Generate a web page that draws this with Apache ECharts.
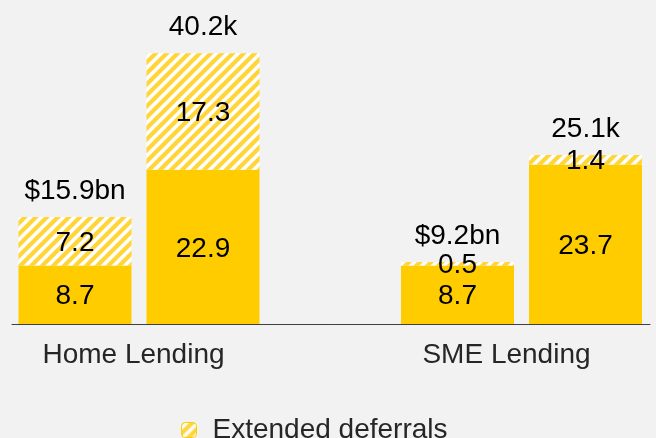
<!DOCTYPE html>
<html>
<head>
<meta charset="utf-8">
<script src="https://cdn.jsdelivr.net/npm/echarts@6/dist/echarts.min.js"></script>
<style>
  html, body { margin: 0; padding: 0; background: #f2f2f2; }
  #chart { width: 656px; height: 438px; }
</style>
</head>
<body>
<div id="chart"></div>
<script>
var categories = ['Home Lending', 'SME Lending'];
// left bar of each group: balances ($bn)
var balanceBase = [8.7, 8.7];
var balanceExtended = [7.2, 0.5];
var balanceTotals = ['$15.9bn', '$9.2bn'];
// right bar of each group: accounts (k)
var accountsBase = [22.9, 23.7];
var accountsExtended = [17.3, 1.4];
var accountsTotals = ['40.2k', '25.1k'];

var yellow = '#ffcc00';
var font = "'Liberation Sans', Arial, sans-serif";

// hatch pattern for the extended deferrals
function makeHatch() {
    var s = 11;
    var c = document.createElement('canvas');
    c.width = s;
    c.height = s;
    var ctx = c.getContext('2d');
    ctx.fillStyle = '#ffffff';
    ctx.fillRect(0, 0, s, s);
    ctx.strokeStyle = '#ffd538';
    ctx.lineWidth = 4.2;
    ctx.beginPath();
    ctx.moveTo(-s / 2, s / 2); ctx.lineTo(s / 2, -s / 2);
    ctx.moveTo(0, s); ctx.lineTo(s, 0);
    ctx.moveTo(s / 2, s * 1.5); ctx.lineTo(s * 1.5, s / 2);
    ctx.stroke();
    return c;
}
var hatch = { image: makeHatch(), repeat: 'repeat' };

var insideLabel = {
    show: true,
    position: 'inside',
    offset: [0, 2],
    color: '#000',
    fontSize: 28,
    fontFamily: font
};

function totalSeries(stack, totals) {
    return {
        name: 'total',
        type: 'bar',
        stack: stack,
        barWidth: 113,
        barGap: '13.3%',
        data: totals.map(function () { return 0; }),
        itemStyle: { color: 'transparent' },
        label: {
            show: true,
            position: 'top',
            distance: 12,
            color: '#000',
            fontSize: 28,
            fontFamily: font,
            formatter: function (p) { return totals[p.dataIndex]; }
        }
    };
}

var myChart = echarts.init(document.getElementById('chart'));
myChart.setOption({
    backgroundColor: '#f2f2f2',
    animation: false,
    textStyle: { fontFamily: font },
    grid: [
        // category points sit on the grid edges (boundaryGap false)
        { left: 139, right: 134.5, top: 21, bottom: 114 },
        { left: 12, right: 6, top: 21, bottom: 114 }
    ],
    legend: {
        data: ['Extended deferrals'],
        left: 176,
        top: 411,
        itemWidth: 15,
        itemHeight: 15,
        itemStyle: { borderColor: yellow, borderWidth: 1 },
        textStyle: {
            color: '#262626',
            fontSize: 28,
            fontFamily: font,
            padding: [0, 0, 0, 11]
        }
    },
    xAxis: [
        {
            type: 'category',
            gridIndex: 0,
            boundaryGap: false,
            data: categories,
            axisLine: { show: false },
            axisTick: { show: false },
            axisLabel: {
                margin: 17,
                color: '#262626',
                fontSize: 28,
                fontFamily: font,
                formatter: function (v, i) { return '{c' + i + '|' + v + '}'; },
                rich: {
                    c0: { padding: [0, 11, 0, 0], fontSize: 28, color: '#262626' },
                    c1: { padding: [0, 30, 0, 0], fontSize: 28, color: '#262626' }
                }
            }
        },
        {
            type: 'category',
            gridIndex: 1,
            data: [''],
            axisLine: { show: true, lineStyle: { color: '#404040', width: 1 } },
            axisTick: { show: false },
            axisLabel: { show: false }
        }
    ],
    yAxis: [
        { type: 'value', gridIndex: 0, min: 0, max: 45, show: false, splitLine: { show: false } },
        { type: 'value', gridIndex: 1, min: 0, max: 45, show: false, splitLine: { show: false } }
    ],
    series: [
        {
            name: 'Balance',
            type: 'bar',
            stack: 'balance',
            barWidth: 113,
            barGap: '13.3%',
            data: balanceBase,
            itemStyle: { color: yellow },
            label: insideLabel
        },
        {
            name: 'Extended deferrals',
            type: 'bar',
            stack: 'balance',
            barWidth: 113,
            data: balanceExtended,
            itemStyle: { color: hatch },
            label: insideLabel
        },
        totalSeries('balance', balanceTotals),
        {
            name: 'Accounts',
            type: 'bar',
            stack: 'accounts',
            barWidth: 113,
            barGap: '13.3%',
            data: accountsBase,
            itemStyle: { color: yellow },
            label: insideLabel
        },
        {
            name: 'Extended deferrals',
            type: 'bar',
            stack: 'accounts',
            barWidth: 113,
            data: accountsExtended,
            itemStyle: { color: hatch },
            label: insideLabel
        },
        totalSeries('accounts', accountsTotals)
    ]
});
</script>
</body>
</html>
